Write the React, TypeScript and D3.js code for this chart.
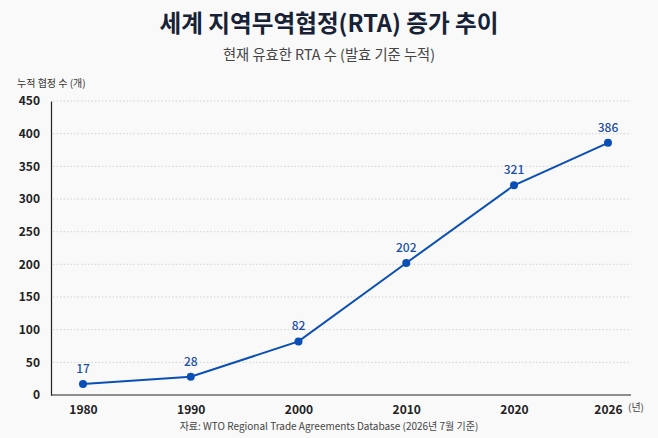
import React, { useEffect, useRef } from "react";
import * as d3 from "d3";

const years = [1980, 1990, 2000, 2010, 2020, 2026];
const counts = [17, 28, 82, 202, 321, 386];
const yTicks = [0, 50, 100, 150, 200, 250, 300, 350, 400, 450];

const title = "세계 지역무역협정(RTA) 증가 추이";
const subtitle = "현재 유효한 RTA 수 (발효 기준 누적)";
const yLabel = "누적 협정 수 (개)";
const xUnit = "(년)";
const source = "자료: WTO Regional Trade Agreements Database (2026년 7월 기준)";

const App: React.FC = () => {
  const svgRef = useRef<SVGSVGElement>(null);
  const width = 658;
  const height = 438;
  const font = "'Noto Sans CJK KR', 'Noto Sans', sans-serif";
  const lineColor = "#0a4fb5";

  useEffect(() => {
    document.body.style.margin = "0";
    const svg = d3.select(svgRef.current);
    svg.selectAll("*").remove();

    svg.append("rect").attr("width", width).attr("height", height).attr("fill", "#f9f9f9");

    // years are not evenly spaced, the last interval is drawn shorter
    const x = d3.scaleLinear().domain([1980, 2020, 2026]).range([83, 514, 608]);
    const y = d3.scaleLinear().domain([0, 450]).range([395, 101]);
    const left = 51;
    const right = 631;

    svg.append("text")
      .attr("x", width / 2).attr("y", 32)
      .attr("text-anchor", "middle")
      .attr("font-family", font).attr("font-weight", 700).attr("font-size", 23.6)
      .attr("fill", "#172236")
      .text(title);

    svg.append("text")
      .attr("x", width / 2).attr("y", 60)
      .attr("text-anchor", "middle")
      .attr("font-family", font).attr("font-size", 14.3)
      .attr("fill", "#444")
      .text(subtitle);

    svg.append("text")
      .attr("x", 17).attr("y", 87)
      .attr("font-family", font).attr("font-size", 10)
      .attr("fill", "#333")
      .text(yLabel);

    // grid
    svg.append("g")
      .selectAll("line")
      .data(yTicks.filter((t) => t > 0))
      .join("line")
      .attr("x1", left + 2).attr("x2", right)
      .attr("y1", (d) => y(d)).attr("y2", (d) => y(d))
      .attr("stroke", "#c8c8c8").attr("stroke-width", 0.8)
      .attr("stroke-dasharray", "1.5,2");

    const yAxis = svg.append("g")
      .attr("transform", `translate(${left},0)`)
      .call(d3.axisLeft(y).tickValues(yTicks).tickSize(0).tickPadding(11));
    yAxis.select(".domain").attr("stroke", "#222").attr("stroke-width", 1.2);
    yAxis.selectAll("text")
      .attr("font-family", font).attr("font-size", 12).attr("font-weight", 600)
      .attr("fill", "#222");

    const xAxis = svg.append("g")
      .attr("transform", `translate(0,${y(0)})`)
      .call(d3.axisBottom(x).tickValues(years).tickFormat(d3.format("d")).tickSize(0).tickPadding(10));
    xAxis.select(".domain").attr("d", `M${left},0H${right}`).attr("stroke", "#222").attr("stroke-width", 1.2);
    xAxis.selectAll("text")
      .attr("font-family", font).attr("font-size", 12).attr("font-weight", 600)
      .attr("fill", "#222");

    svg.append("text")
      .attr("x", 636).attr("y", 411)
      .attr("text-anchor", "middle")
      .attr("font-family", font).attr("font-size", 10)
      .attr("fill", "#444")
      .text(xUnit);

    const data = years.map((yr, i) => ({ year: yr, value: counts[i] }));

    const line = d3.line<{ year: number; value: number }>()
      .x((d) => x(d.year))
      .y((d) => y(d.value));

    svg.append("path")
      .datum(data)
      .attr("d", line)
      .attr("fill", "none")
      .attr("stroke", lineColor)
      .attr("stroke-width", 2);

    svg.append("g")
      .selectAll("circle")
      .data(data)
      .join("circle")
      .attr("cx", (d) => x(d.year)).attr("cy", (d) => y(d.value))
      .attr("r", 4)
      .attr("fill", lineColor);

    svg.append("g")
      .selectAll("text")
      .data(data)
      .join("text")
      .attr("x", (d) => x(d.year)).attr("y", (d) => y(d.value) - 11)
      .attr("text-anchor", "middle")
      .attr("font-family", font).attr("font-size", 12).attr("font-weight", 500)
      .attr("fill", "#1a4fa8")
      .text((d) => d.value);

    svg.append("text")
      .attr("x", width / 2).attr("y", 430)
      .attr("text-anchor", "middle")
      .attr("font-family", font).attr("font-size", 10)
      .attr("fill", "#444")
      .text(source);
  }, []);

  return <svg ref={svgRef} width={width} height={height} style={{ display: "block" }}></svg>;
};

export default App;
